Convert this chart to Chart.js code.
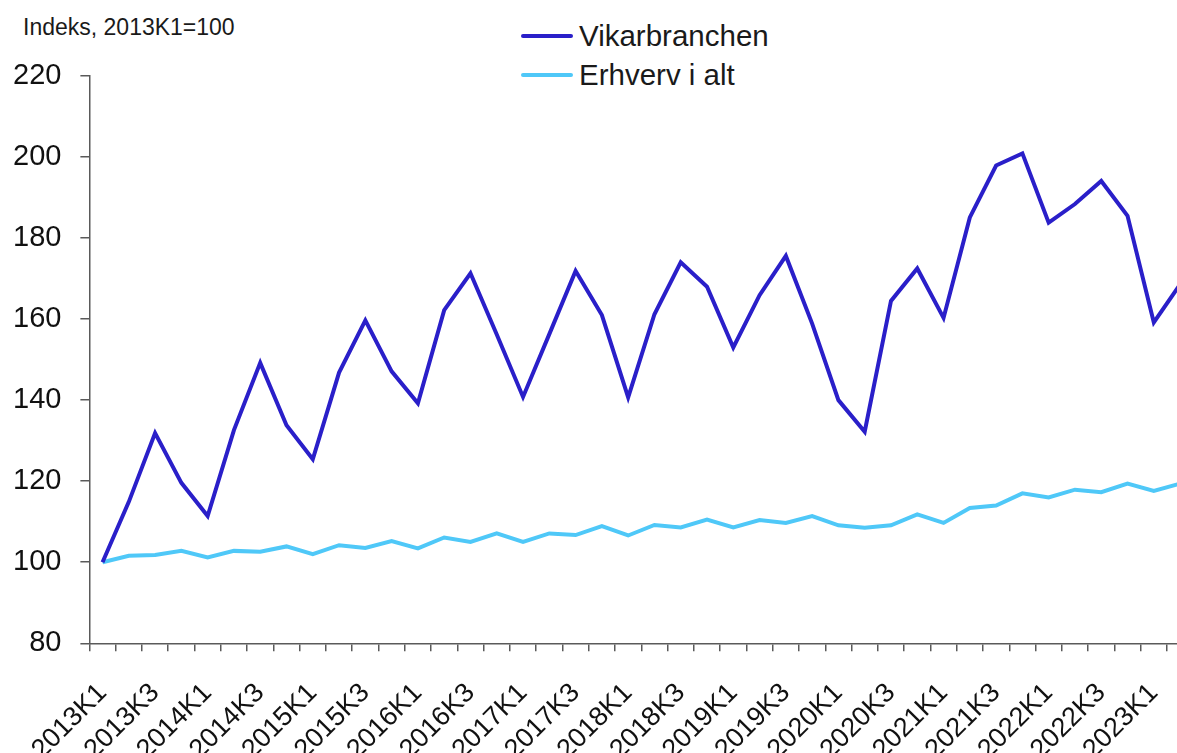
<!DOCTYPE html>
<html lang="da">

<head>
    <meta charset="UTF-8">
    <style>
        html,
        body {
            margin: 0;
            padding: 0;
            width: 1177px;
            height: 753px;
            overflow: hidden;
            background: #ffffff;
            font-family: "Liberation Sans", Arial, sans-serif;
            color: #1a1a1a;
        }

        .unit {
            position: absolute;
            left: 23px;
            top: 14px;
            font-size: 23px;
        }

        .legend {
            position: absolute;
            left: 521px;
            top: 16px;
            font-size: 29.5px;
        }

        .legend-item {
            display: flex;
            align-items: center;
            height: 39px;
        }

        .legend-line {
            width: 52px;
            height: 4px;
            border-radius: 2px;
            margin-right: 6px;
        }

        /* chart is a bit larger than the window and cut at right/bottom like the original */
        .chart-box {
            position: absolute;
            left: -6px;
            top: 0;
            width: 1235px;
            height: 792px;
        }
    </style>
</head>

<body>
    <div class="unit">Indeks, 2013K1=100</div>
    <div class="legend" id="legend"></div>
    <div class="chart-box">
        <canvas id="chart"></canvas>
    </div>

    <script src="https://cdn.jsdelivr.net/npm/chart.js"></script>
    <script>
        // kvartaler 2013K1 - 2023K2
        const quarters = [];
        for (let y = 2013; y <= 2023; y++) {
            for (let q = 1; q <= 4; q++) {
                if (y === 2023 && q > 2) break;
                quarters.push(y + 'K' + q);
            }
        }

        const seriesNames = ['Vikarbranchen', 'Erhverv i alt'];
        const seriesColors = ['#2a1fc9', '#4fc8f8'];

        const vikar = [100, 114.9, 131.9, 119.6, 111.4, 132.6, 149.2, 133.8, 125.4, 146.8,
            159.7, 147.1, 139.2, 162.2, 171.3, 156.2, 140.8, 156.3, 171.9, 161.0,
            140.7, 161.2, 174.0, 168.0, 153.0, 165.9, 175.6, 158.9, 140.0, 132.2,
            164.5, 172.5, 160.3, 185.1, 197.9, 200.9, 183.8, 188.4, 194.1, 185.5,
            159.2, 168.6];

        const erhverv = [100, 101.6, 101.8, 102.8, 101.2, 102.8, 102.6, 103.9, 102.0, 104.2,
            103.5, 105.2, 103.4, 106.1, 105.0, 107.1, 105.0, 107.1, 106.7, 108.9,
            106.6, 109.2, 108.6, 110.5, 108.6, 110.4, 109.7, 111.4, 109.1, 108.5,
            109.1, 111.8, 109.7, 113.4, 114.0, 117.0, 116.0, 117.9, 117.3, 119.4,
            117.6, 119.4];

        const yTicks = [80, 100, 120, 140, 160, 180, 200, 220];

        // legend as html
        const legend = document.getElementById('legend');
        seriesNames.forEach((name, i) => {
            const row = document.createElement('div');
            row.className = 'legend-item';
            row.innerHTML = '<span class="legend-line" style="background:' + seriesColors[i] + '"></span><span>' + name + '</span>';
            legend.appendChild(row);
        });

        const axisColor = '#5a5a5a';
        const fontFamily = '"Liberation Sans", Arial, sans-serif';

        new Chart(document.getElementById('chart'), {
            type: 'line',
            data: {
                labels: quarters,
                datasets: [
                    {
                        label: seriesNames[0],
                        data: vikar,
                        borderColor: seriesColors[0],
                        borderWidth: 4,
                        pointRadius: 0,
                        tension: 0,
                        fill: false
                    },
                    {
                        label: seriesNames[1],
                        data: erhverv,
                        borderColor: seriesColors[1],
                        borderWidth: 4,
                        pointRadius: 0,
                        tension: 0,
                        fill: false
                    }
                ]
            },
            options: {
                responsive: true,
                maintainAspectRatio: false,
                animation: false,
                layout: {
                    padding: { top: 76, left: 0, right: 0, bottom: 0 }
                },
                scales: {
                    x: {
                        offset: true,
                        grid: {
                            offset: true,
                            drawOnChartArea: false,
                            tickLength: 8,
                            color: axisColor,
                            lineWidth: 1.5
                        },
                        border: { display: true, color: axisColor, width: 1.5 },
                        ticks: {
                            autoSkip: false,
                            maxRotation: 45,
                            minRotation: 45,
                            padding: 26,
                            color: '#111',
                            font: { family: fontFamily, size: 27 },
                            callback: (v, i) => (i % 2 === 0 ? quarters[i] : '')
                        }
                    },
                    y: {
                        min: 80,
                        max: 220,
                        afterBuildTicks: axis => {
                            axis.ticks = yTicks.map(v => ({ value: v }));
                        },
                        grid: {
                            drawOnChartArea: false,
                            tickLength: 9,
                            color: axisColor,
                            lineWidth: 1.5
                        },
                        border: { display: true, color: axisColor, width: 1.5 },
                        ticks: {
                            padding: 19,
                            color: '#111',
                            font: { family: fontFamily, size: 29 }
                        }
                    }
                },
                plugins: {
                    legend: { display: false },
                    tooltip: { enabled: false }
                }
            }
        });
    </script>
</body>

</html>
